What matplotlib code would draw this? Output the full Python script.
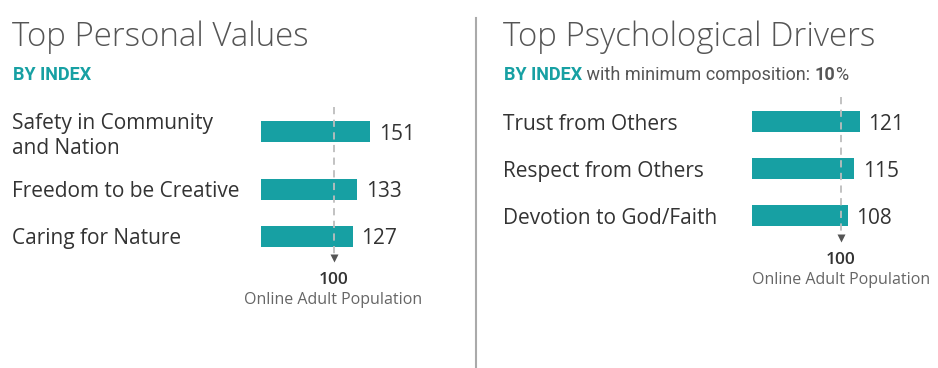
import matplotlib.pyplot as plt
from matplotlib import transforms
from matplotlib.lines import Line2D

# ---- data ----
values_labels = ['Safety in Community\nand Nation', 'Freedom to be Creative', 'Caring for Nature']
values_index = [151, 133, 127]
drivers_labels = ['Trust from Others', 'Respect from Others', 'Devotion to God/Faith']
drivers_index = [121, 115, 108]
baseline = 100
baseline_name = 'Online Adult Population'
min_composition = 10

TEAL = '#17a0a3'
DARK = '#333333'
GREY = '#555555'
FONT = 'Open Sans'
W, H = 938, 368
ROW = 47.0          # pixels between single line rows
EXTRA_LINE = 0.22   # extra row spacing for a second label line

fig = plt.figure(figsize=(W / 100, H / 100), dpi=100)


def panel(labels, vals, x_text, x_bar, x_end, px_per_unit, first_row_px):
    # row positions, a two-line label pushes things down a bit
    ys = []
    y = EXTRA_LINE * labels[0].count('\n')
    for i, lab in enumerate(labels):
        if i > 0:
            y += 1 + EXTRA_LINE * labels[i - 1].count('\n')
        ys.append(y)

    ax = fig.add_axes([x_bar / W, 0, (x_end - x_bar) / W, 1])
    ax.set_xlim(0, (x_end - x_bar) / px_per_unit)
    top = -first_row_px / ROW
    ax.set_ylim(top + H / ROW, top)
    ax.axis('off')

    ax.barh(ys, vals, height=21 / ROW, color=TEAL)
    for v, yy in zip(vals, ys):
        ax.annotate(str(v), (v, yy), xytext=(6, 0), textcoords='offset points',
                    va='center_baseline', ha='left', fontsize=15, color=DARK, family=FONT)

    trans = transforms.blended_transform_factory(fig.transFigure, ax.transData)
    for lab, yy in zip(labels, ys):
        ax.text(x_text / W, yy, lab, transform=trans, va='center_baseline', ha='left',
                fontsize=15, color=DARK, family=FONT, linespacing=1.25)

    # baseline marker
    ax.plot([baseline, baseline], [ys[0] - 25 / ROW, ys[-1] + 19 / ROW],
            color='#bdbdbd', lw=1.3, ls=(0, (4, 3)))
    ax.plot(baseline, ys[-1] + 22 / ROW, marker='v', ms=6, color='#555555', mec='none')
    ax.text(baseline, ys[-1] + 44 / ROW, str(baseline), ha='center', va='center',
            fontsize=12.5, color=DARK, family=FONT, fontweight='semibold')
    ax.text(baseline, ys[-1] + 64 / ROW, baseline_name, ha='center', va='center',
            fontsize=11.5, color='#666666', family=FONT)
    return ax


ax1 = panel(values_labels, values_index, 12, 261, 470, 0.725, 121.5)
ax2 = panel(drivers_labels, drivers_index, 503, 752, 938, 0.89, 121.5)

# titles
fig.text(12 / W, 1 - 37 / H, 'Top Personal Values', fontsize=23.8, fontweight='light',
         color=GREY, family=FONT, va='center')
fig.text(503 / W, 1 - 37 / H, 'Top Psychological Drivers', fontsize=23.8, fontweight='light',
         color=GREY, family=FONT, va='center')

fig.text(13 / W, 1 - 75 / H, 'BY INDEX', fontsize=13, fontweight='bold',
         color=TEAL, family='Roboto', va='center')
t1 = fig.text(504 / W, 1 - 75 / H, 'BY INDEX', fontsize=13, fontweight='bold',
              color=TEAL, family='Roboto', va='center')
t2 = ax2.annotate(' with minimum composition: ', xy=(1, 0), xycoords=t1, va='bottom',
                  fontsize=13, color=GREY, family='Roboto', annotation_clip=False)
t3 = ax2.annotate(str(min_composition), xy=(1, 0), xycoords=t2, va='bottom',
                  fontsize=13, color=GREY, family='Roboto', fontweight='bold',
                  annotation_clip=False)
ax2.annotate('%', xy=(1, 0), xycoords=t3, va='bottom',
             fontsize=13, color=GREY, family='Roboto', annotation_clip=False)

# divider between the two panels
fig.add_artist(Line2D([476 / W, 476 / W], [0, 1 - 18 / H], color='#aaaaaa', lw=1.5))

fig.savefig('out.png', dpi=100, facecolor='white')
